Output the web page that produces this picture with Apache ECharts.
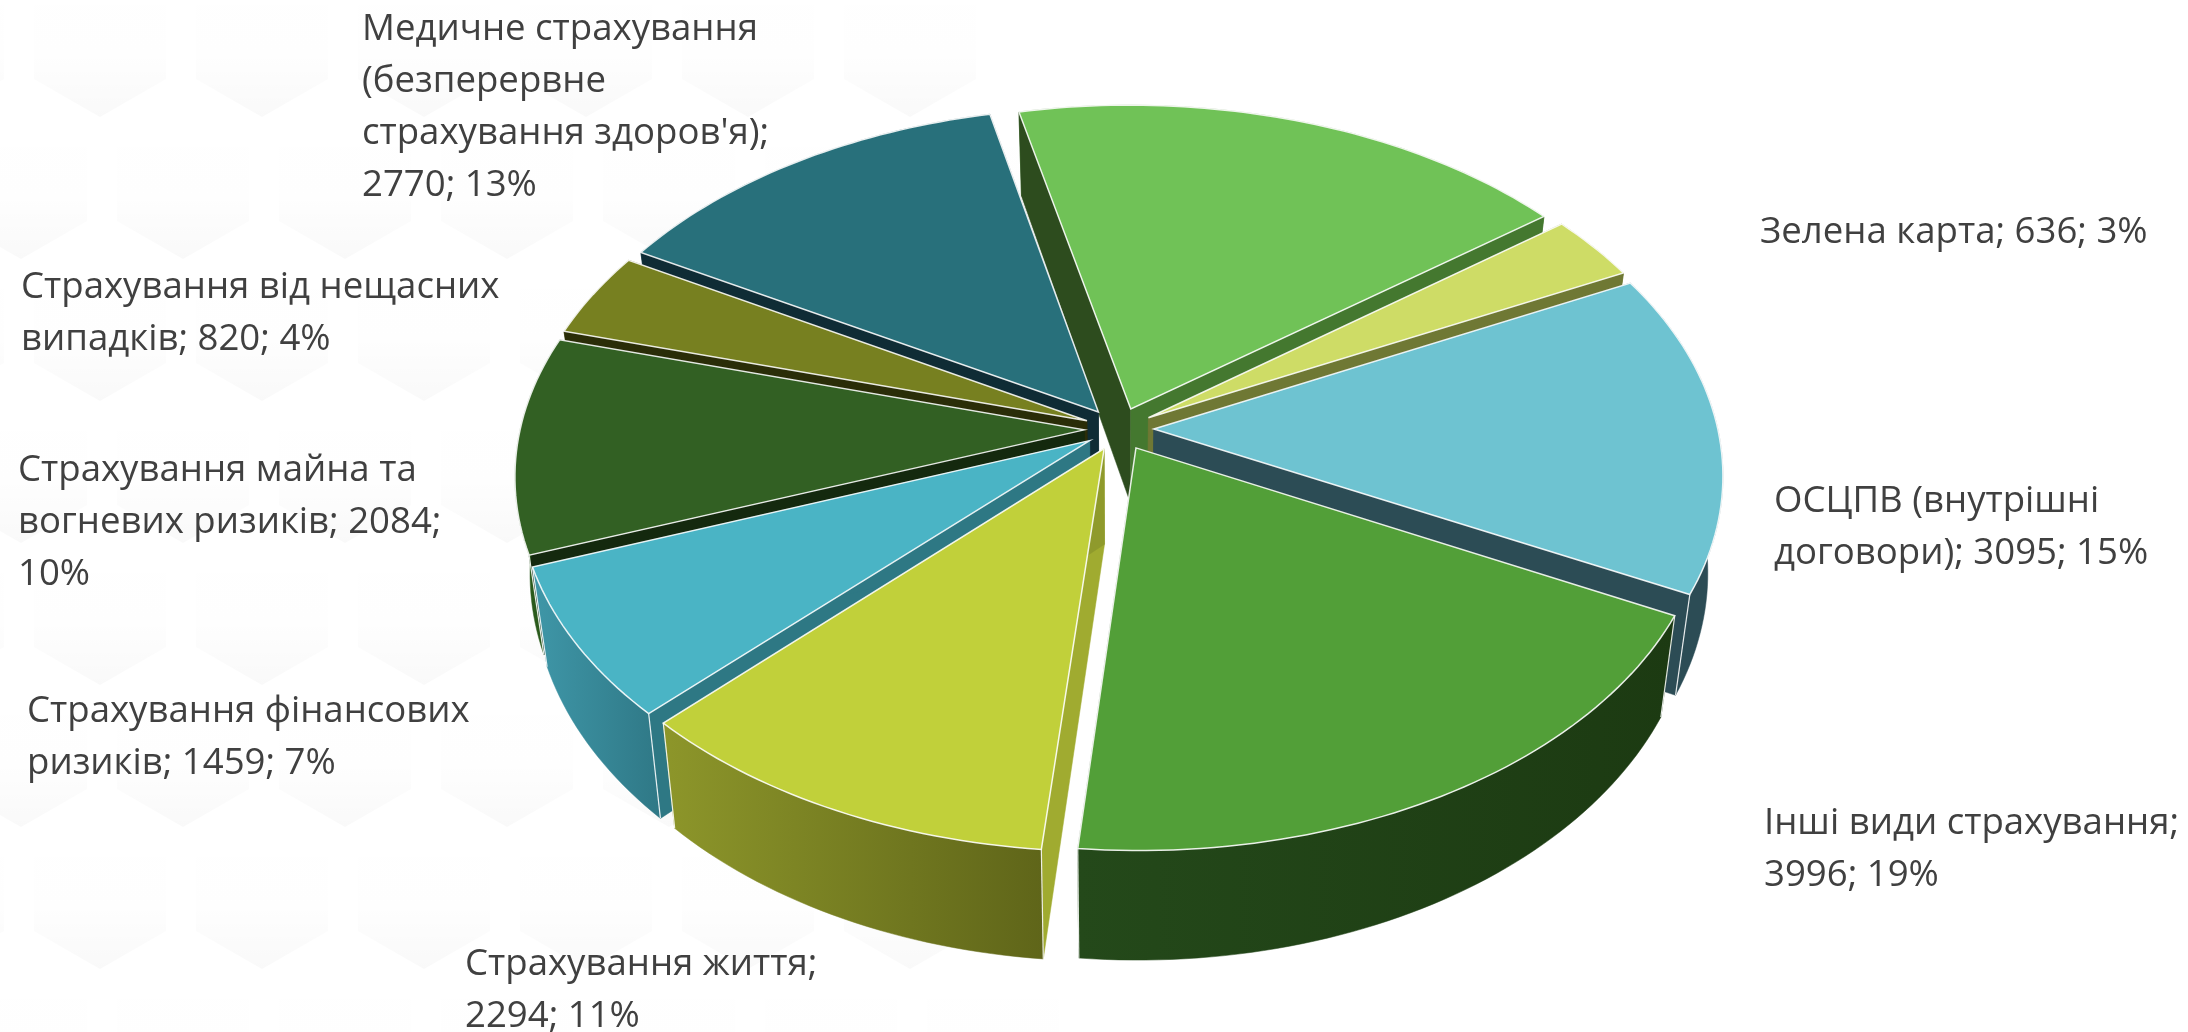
<!DOCTYPE html>
<html>
<head>
<meta charset="utf-8">
<style>html,body{margin:0;padding:0;background:#fff}#chart{width:2188px;height:1032px}</style>
<script src="https://cdn.jsdelivr.net/npm/echarts@6/dist/echarts.min.js"></script>
</head>
<body>
<div id="chart"></div>
<script>
// Data (clockwise from the top slice, whose label is absent in the picture)
const categories = ['', 'Зелена карта', 'ОСЦПВ (внутрішні договори)', 'Інші види страхування', 'Страхування життя', 'Страхування фінансових ризиків', 'Страхування майна та вогневих ризиків', 'Страхування від нещасних випадків', "Медичне страхування (безперервне страхування здоров'я)"];
const values = [3815, 636, 3095, 3996, 2294, 1459, 2084, 820, 2770];
const labelTexts = ['', 'Зелена карта; 636; 3%', 'ОСЦПВ (внутрішні\nдоговори); 3095; 15%', 'Інші види страхування;\n3996; 19%', 'Страхування життя;\n2294; 11%', 'Страхування фінансових\nризиків; 1459; 7%', 'Страхування майна та\nвогневих ризиків; 2084;\n10%', 'Страхування від нещасних\nвипадків; 820; 4%', "Медичне страхування\n(безперервне\nстрахування здоров'я);\n2770; 13%"];

// Styles
const topColors = ['#70c257', '#cedc66', '#6ec3d1', '#529f38', '#c1d03a', '#4ab4c5', '#326023', '#778020', '#28707b'];
const startWallColors = ['#2d4c1e', '#6f7834', '#2c4c55', '#24491a', '#a0ab30', '#2e7884', '#14290e', '#2a2d08', '#0f2c35'];
const endWallColors = ['#44782f', '#6f7834', '#2c4c55', '#24491a', '#8f9a2c', '#2e7884', '#14290e', '#2a2d08', '#0f2c35'];
const rimStops = [['#44782f', '#44782f'], ['#6f7834', '#6f7834'], ['#2c4c55', '#2c4c55'], ['#24491a', '#1c3a12'], ['#8d962a', '#5f6519'], ['#3f97a8', '#2f7886'], ['#2a5a1c', '#2a5a1c'], ['#555c17', '#555c17'], ['#1b4f58', '#1b4f58']];
const labelAnchors = [null, [1760, 207], [1774, 476], [1764, 798], [465, 939], [27, 686], [18, 445], [21, 262], [362, 4]];
const labelLineHeight = 52;

// Projection of the pie's plane
const view = { cx: 1119, cy: 429, A: 600, B: 369, k: 0.134, depth: 95, floor: 0.975, radius: 0.94, explode: 0.058, start: 102.8 };
const total = values.reduce((a, b) => a + b, 0);
const rad = d => d * Math.PI / 180;

function project(X, Y, low) {
  const w = 1 + view.k * Y;
  let x = view.A * X / w, y = view.cy - view.B * Y / w;
  if (low) { x *= view.floor; y += view.depth / w; }
  return [view.cx + x, y];
}

// Angular span of each slice, clockwise
const spans = [];
values.reduce((acc, v) => {
  const sweep = v / total * 360;
  spans.push([acc, acc - sweep]);
  return acc - sweep;
}, view.start);

function sliceGeometry(i) {
  const [a0, a1] = spans[i];
  const mid = rad((a0 + a1) / 2);
  const ex = view.explode * Math.cos(mid), ey = view.explode * Math.sin(mid);
  const n = Math.max(8, Math.round((a0 - a1) / 1.2));
  const world = [];
  for (let j = 0; j <= n; j++) {
    const a = rad(a0 + (a1 - a0) * j / n);
    world.push([ex + view.radius * Math.cos(a), ey + view.radius * Math.sin(a)]);
  }
  return { apex: [ex, ey], world, front: Math.sin(mid) < 0 };
}

const drawOrder = values.map((v, i) => i).sort((p, q) => {
  const m = i => Math.sin(rad((spans[i][0] + spans[i][1]) / 2));
  return m(q) - m(p);
});

function renderSlice(params, api) {
  const i = api.value(0);
  const g = sliceGeometry(i);
  const up = g.world.map(p => project(p[0], p[1], false));
  const dn = g.world.map(p => project(p[0], p[1], true));
  const aU = project(g.apex[0], g.apex[1], false), aD = project(g.apex[0], g.apex[1], true);
  const last = up.length - 1;
  const poly = (points, fill, stroke) => ({
    type: 'polygon', shape: { points },
    style: { fill, stroke: stroke || fill, lineWidth: stroke ? 1.5 : 0.5 }
  });
  const rimFill = new echarts.graphic.LinearGradient(0, 0, 1, 0, [
    { offset: 0, color: rimStops[i][0] }, { offset: 1, color: rimStops[i][1] }
  ]);
  const edge = 'rgba(255,255,255,0.88)';
  const rim = poly(up.concat(dn.slice().reverse()), rimFill);
  const walls = [poly([aU, up[0], dn[0], aD], startWallColors[i]), poly([aU, up[last], dn[last], aD], endWallColors[i])];
  const corners = [];
  [0, last].forEach(j => {
    if (g.world[j][1] < 0) corners.push({ type: 'polyline', shape: { points: [up[j], dn[j]] }, style: { stroke: edge, lineWidth: 1.2, fill: 'none' } });
  });
  const sides = g.front ? walls.concat([rim]) : [rim].concat(walls);
  return { type: 'group', children: sides.concat(corners, [poly([aU].concat(up), topColors[i], edge)]) };
}

// Faint honeycomb backdrop
const hexes = [];
for (let row = 0; row < 8; row++) {
  for (let col = -1; col < 6; col++) {
    const tipY = 117 + row * 142;
    const cx = (row % 2 ? 183 : 100) + col * 162;
    hexes.push({
      type: 'polygon', silent: true, z: -1,
      shape: { points: [[cx, tipY], [cx + 66, tipY - 38], [cx + 66, tipY - 122], [cx, tipY - 160], [cx - 66, tipY - 122], [cx - 66, tipY - 38]] },
      style: { fill: new echarts.graphic.LinearGradient(0, 0, 0, 1, [
        { offset: 0, color: 'rgba(0,0,0,0)' }, { offset: 0.6, color: 'rgba(0,0,0,0.002)' }, { offset: 1, color: 'rgba(0,0,0,0.022)' }
      ]) }
    });
  }
}

const labels = labelTexts.map((t, i) => t ? {
  type: 'text', silent: true, x: labelAnchors[i][0], y: labelAnchors[i][1],
  style: { text: t, fill: '#404040', font: '36.6px "Open Sans"', lineHeight: labelLineHeight, verticalAlign: 'top', align: 'left' }
} : null).filter(Boolean);

const chart = echarts.init(document.getElementById('chart'));
chart.setOption({
  animation: false,
  backgroundColor: '#ffffff',
  graphic: { elements: hexes.concat(labels) },
  series: [{
    type: 'custom',
    coordinateSystem: 'none',
    renderItem: renderSlice,
    encode: {},
    data: drawOrder.map(i => [i, values[i], categories[i]])
  }]
});
</script>
</body>
</html>
